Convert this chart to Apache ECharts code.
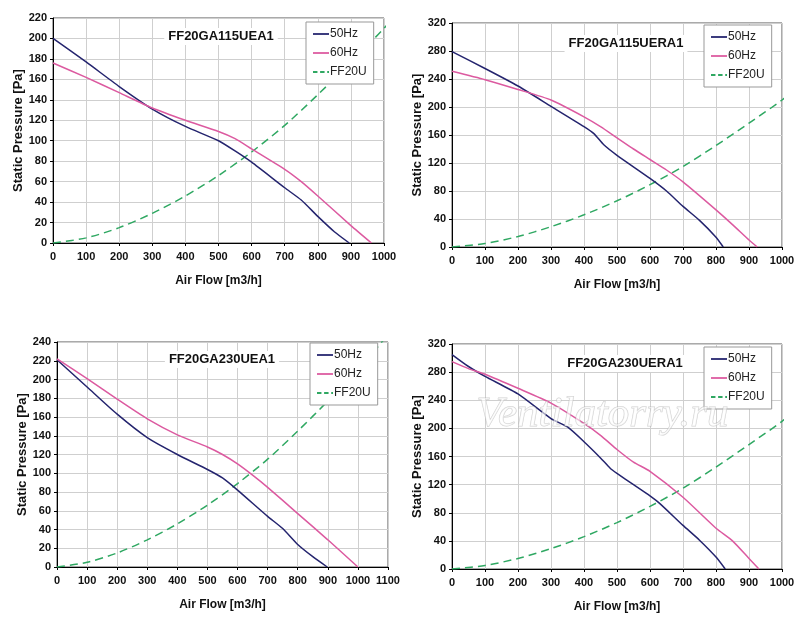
<!DOCTYPE html>
<html>
<head>
<meta charset="utf-8">
<script src="https://cdn.jsdelivr.net/npm/echarts@6/dist/echarts.min.js"></script>
<style>
  html, body { margin: 0; padding: 0; background: #fff; }
  #chart { width: 800px; height: 629px; }
</style>
</head>
<body>
<div id="chart"></div>
<script>
// fan curves, [air flow m3/h, static pressure Pa]
var ga115uea1_50 = [[0,200],[100,177],[200,153],[300,131],[400,114],[500,100],[550,90],[600,79],[700,54],[750,42],[800,26],[850,11],[895,0]];
var ga115uea1_60 = [[0,176],[100,162],[200,147],[300,132],[400,120],[500,109],[550,102],[600,92],[700,72],[750,60],[800,46],[900,17],[962,0]];

var ga115uera1_50 = [[0,279],[100,255],[200,230],[300,201],[400,172],[430,162],[460,146],[500,131],[600,98],[650,80],[700,58],[750,38],[800,14],[822,0]];
var ga115uera1_60 = [[0,251],[100,239],[200,225],[300,210],[400,186],[450,172],[500,156],[550,140],[600,125],[650,110],[700,93],[800,53],[850,32],[900,10],[925,0]];

var ga230uea1_50 = [[0,221],[100,192],[200,163],[300,138],[400,120],[500,104],[550,95],[600,82],[700,54],[750,41],[800,24],[850,11],[898,0]];
var ga230uea1_60 = [[0,222],[100,201],[200,179],[300,158],[400,141],[500,128],[550,120],[600,110],[650,98],[700,85],[800,57],[900,29],[1000,0]];

var ga230uera1_50 = [[0,305],[50,288],[100,274],[200,249],[300,214],[350,202],[400,181],[450,158],[480,143],[500,136],[550,120],[600,104],[630,93],[700,62],[750,41],[800,17],[828,0]];
var ga230uera1_60 = [[0,295],[50,285],[100,277],[200,257],[300,236],[400,207],[450,190],[500,170],[550,152],[600,139],[700,102],[800,58],[850,40],[900,15],[930,0]];

// system curve FF20U
var ff20u = [[0,0],[100,5],[200,15],[300,29],[400,46],[500,66],[600,89],[700,115],[800,145],[900,177],[1000,210],[1100,248]];

var panelTitles = ['FF20GA115UEA1', 'FF20GA115UERA1', 'FF20GA230UEA1', 'FF20GA230UERA1'];
var xMax = [1000, 1000, 1100, 1000];
var yMax = [220, 320, 240, 320];
var yStep = [20, 40, 20, 40];
var curves50 = [ga115uea1_50, ga115uera1_50, ga230uea1_50, ga230uera1_50];
var curves60 = [ga115uea1_60, ga115uera1_60, ga230uea1_60, ga230uera1_60];

var grids = [
  { left: 53, top: 18, width: 331, height: 225 },
  { left: 452, top: 23, width: 330, height: 224 },
  { left: 57, top: 342, width: 331, height: 225 },
  { left: 452, top: 344, width: 330, height: 225 }
];
var titlePos = [[217, 28], [622, 35], [218, 351], [621, 355]];
var legendPos = [[306, 22], [704, 25], [310, 343], [704, 347]];

var FONT = 'Liberation Sans, Arial, sans-serif';
var C50 = '#24246e', C60 = '#dc5aa0', CSYS = '#2fa862';
// legend icons: plain stroke, dashed stroke
var ICON_LINE = 'path://M0,0h18v2h-18z';
var ICON_DASH = 'path://M0,0h5v2h-5z M8,0h5v2h-5z M16,0h2v2h-2z';

var myChart = echarts.init(document.getElementById('chart'));

var option = {
  backgroundColor: '#fff',
  animation: false,
  grid: [],
  xAxis: [],
  yAxis: [],
  title: [],
  legend: [],
  series: [],
  graphic: [{
    type: 'text',
    left: 476,
    top: 393,
    z: 100,
    style: {
      text: 'Ventilatorry.ru',
      font: 'italic 43px "Liberation Serif", "DejaVu Serif", serif',
      fill: 'rgba(255,255,255,0.6)',
      stroke: 'rgba(170,170,170,0.55)',
      lineWidth: 1
    }
  }]
};

function plain(v) { return String(v); }

for (var i = 0; i < 4; i++) {
  var g = grids[i];
  option.grid.push({ left: g.left, top: g.top, width: g.width, height: g.height,
    show: true, borderColor: '#555', borderWidth: 1 });
  option.xAxis.push({
    type: 'value', gridIndex: i, min: 0, max: xMax[i], interval: 100,
    name: 'Air Flow [m3/h]', nameLocation: 'middle', nameGap: 32,
    nameTextStyle: { fontFamily: FONT, fontWeight: 'bold', fontSize: 12, color: '#111' },
    axisLine: { lineStyle: { color: '#000', width: 1 } },
    axisTick: { show: true, length: 3, lineStyle: { color: '#000' } },
    axisLabel: { fontFamily: FONT, fontWeight: 'bold', fontSize: 11, color: '#111', margin: 8, formatter: plain },
    splitLine: { show: true, lineStyle: { color: '#cfcfcf', width: 1 } }
  });
  option.yAxis.push({
    type: 'value', gridIndex: i, min: 0, max: yMax[i], interval: yStep[i],
    name: 'Static Pressure [Pa]', nameLocation: 'middle', nameGap: 28, nameRotate: 90,
    nameTextStyle: { fontFamily: FONT, fontWeight: 'bold', fontSize: 13, color: '#111' },
    axisLine: { show: true, lineStyle: { color: '#000', width: 1 } },
    axisTick: { show: true, length: 3, lineStyle: { color: '#000' } },
    axisLabel: { fontFamily: FONT, fontWeight: 'bold', fontSize: 11, color: '#111', margin: 6, formatter: plain },
    splitLine: { show: true, lineStyle: { color: '#cfcfcf', width: 1 } }
  });
  option.title.push({
    text: panelTitles[i],
    left: titlePos[i][0], top: titlePos[i][1],
    textAlign: 'center',
    padding: [2, 4],
    backgroundColor: '#fff',
    textStyle: { fontFamily: FONT, fontWeight: 'bold', fontSize: 13, color: '#111' }
  });
  option.legend.push({
    left: legendPos[i][0], top: legendPos[i][1],
    orient: 'vertical',
    data: [
      { name: '50Hz', icon: ICON_LINE },
      { name: '60Hz', icon: ICON_LINE },
      { name: 'FF20U', icon: ICON_DASH }
    ],
    backgroundColor: '#fff',
    borderColor: '#999', borderWidth: 1,
    padding: [6, 7],
    itemGap: 7,
    itemWidth: 16, itemHeight: 2,
    textStyle: { fontFamily: FONT, fontSize: 12, color: '#222', padding: [0, 0, 0, -4] },
    selectedMode: false
  });
  option.series.push({
    name: '50Hz', type: 'line', xAxisIndex: i, yAxisIndex: i,
    data: curves50[i], smooth: 0.2, symbol: 'none', z: 3,
    lineStyle: { color: C50, width: 1.5 }, itemStyle: { color: C50 }
  });
  option.series.push({
    name: '60Hz', type: 'line', xAxisIndex: i, yAxisIndex: i,
    data: curves60[i], smooth: 0.2, symbol: 'none', z: 3,
    lineStyle: { color: C60, width: 1.5 }, itemStyle: { color: C60 }
  });
  option.series.push({
    name: 'FF20U', type: 'line', xAxisIndex: i, yAxisIndex: i,
    data: ff20u, smooth: 0.3, symbol: 'none', clip: true, z: 2,
    lineStyle: { color: CSYS, width: 1.5, type: [8, 5] }, itemStyle: { color: CSYS }
  });
}

myChart.setOption(option);
</script>
</body>
</html>
